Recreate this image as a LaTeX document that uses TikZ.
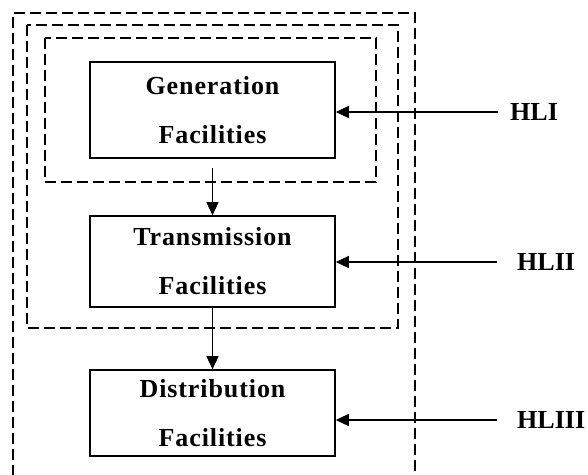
\documentclass[tikz,border=0pt]{standalone}
\usepackage{fontspec}
\setmainfont{Liberation Serif}
\usetikzlibrary{arrows.meta}
\begin{document}
\begin{tikzpicture}[x=1pt,y=1pt,
  dashbox/.style={draw, line width=1.3pt, dash pattern=on 11pt off 5pt},
  facility/.style={draw, line width=1.6pt, minimum width=245pt, inner sep=0pt,
    align=center, font=\fontsize{26}{49}\selectfont\bfseries\addfontfeatures{LetterSpace=3.5}},
  hllabel/.style={anchor=west, inner sep=0pt, font=\fontsize{26}{30}\selectfont\bfseries},
  conn/.style={line width=1.4pt, -{Triangle[length=13pt,width=12pt]}}]
\useasboundingbox (0,0) rectangle (588,-474);
% dashed boundaries
\draw[dashbox] (13,-476) -- (13,-13) -- (415,-13) -- (415,-476);
\draw[dashbox] (27,-25) rectangle (398,-328);
\draw[dashbox] (45,-38) rectangle (376,-182);
% facility boxes
\node[facility, minimum height=96pt] (gen) at (212.5,-110) {Generation\\Facilities};
\node[facility, minimum height=91pt] (trans) at (212.5,-261.5) {Transmission\\Facilities};
\node[facility, minimum height=86pt] (dist) at (212.5,-413) {Distribution\\Facilities};
% labels
\node[hllabel] (hl1) at (510,-112) {HLI};
\node[hllabel] (hl2) at (517,-262) {HLII};
\node[hllabel] (hl3) at (517,-420) {HLIII};
% connectors
\draw[conn] ([yshift=-9pt]gen.south) -- (trans.north);
\draw[conn] (trans.south) -- (dist.north);
\draw[conn] ([xshift=-12pt]hl1.west) -- (hl1.west -| gen.east);
\draw[conn] ([xshift=-20pt]hl2.west) -- (hl2.west -| trans.east);
\draw[conn] ([xshift=-20pt]hl3.west) -- (hl3.west -| dist.east);
\end{tikzpicture}
\end{document}
